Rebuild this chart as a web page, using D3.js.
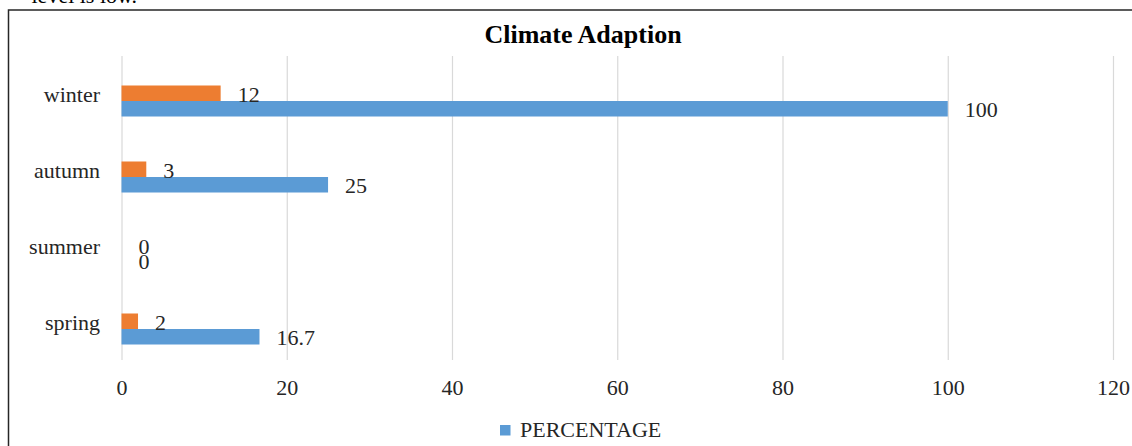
<!DOCTYPE html>
<html>
<head>
<meta charset="utf-8">
<script src="https://cdn.jsdelivr.net/npm/d3@7"></script>
<style>
  html, body { margin: 0; padding: 0; background: #fff; overflow: hidden; }
  svg { display: block; }
  text { font-family: "Liberation Serif", "Times New Roman", serif; }
</style>
</head>
<body>
<svg id="chart" width="1132" height="446"></svg>
<script>
// ---- data ----
const categories = ["winter", "autumn", "summer", "spring"];
const countValues = [12, 3, 0, 2];
const percentValues = [100, 25, 0, 16.7];
const xTicks = [0, 20, 40, 60, 80, 100, 120];
const seriesNames = ["count", "PERCENTAGE"];
const seriesColors = ["#ED7D31", "#5B9BD5"];
const chartTitle = "Climate Adaption";
const aboveText = "level is low.";

const svg = d3.select("#chart");

// text of the page above the chart, clipped by the frame edge
svg.append("text")
  .attr("x", 137).attr("y", 3)
  .attr("text-anchor", "end")
  .style("font-size", "22px").attr("fill", "#000")
  .text(aboveText);

// chart frame
svg.append("rect")
  .attr("x", 8.5).attr("y", 10)
  .attr("width", 1300).attr("height", 600)
  .attr("fill", "none").attr("stroke", "#262626").attr("stroke-width", 1.5);

const plotTop = 56, plotBottom = 360;
const x = d3.scaleLinear().domain([0, 120]).range([121.5, 1113]);
const y = d3.scaleBand().domain(categories).range([63, 367])
  .paddingInner(0.592).paddingOuter(0.296);
const ySub = d3.scaleBand().domain(seriesNames).range([0, y.bandwidth()]);

// x axis with gridlines
const xAxis = svg.append("g")
  .attr("transform", `translate(0,${plotBottom})`)
  .call(d3.axisBottom(x).tickValues(xTicks)
    .tickSizeInner(-(plotBottom - plotTop)).tickSizeOuter(0).tickPadding(19));
xAxis.select(".domain").remove();
xAxis.selectAll(".tick line").attr("stroke", "#d9d9d9").attr("stroke-width", 1.2);
xAxis.selectAll(".tick text")
  .style("font-size", "22px").attr("fill", "#262626")
  .style("font-family", "'Liberation Serif', serif");

// category axis
const yAxis = svg.append("g")
  .attr("transform", `translate(${x(0)},0)`)
  .call(d3.axisLeft(y).tickSize(0).tickPadding(21.5));
yAxis.select(".domain").remove();
yAxis.selectAll(".tick text")
  .attr("dy", "0.04em")
  .style("font-size", "22px").attr("fill", "#262626")
  .style("font-family", "'Liberation Serif', serif");

// bars
const rows = categories.map((c, i) => ({
  cat: c,
  vals: [
    { s: seriesNames[0], v: countValues[i], color: seriesColors[0] },
    { s: seriesNames[1], v: percentValues[i], color: seriesColors[1] }
  ]
}));

const groups = svg.append("g").selectAll("g")
  .data(rows).join("g")
  .attr("transform", d => `translate(0,${y(d.cat)})`);

groups.selectAll("rect")
  .data(d => d.vals).join("rect")
  .attr("x", x(0))
  .attr("y", d => ySub(d.s))
  .attr("width", d => x(d.v) - x(0))
  .attr("height", ySub.bandwidth())
  .attr("fill", d => d.color);

groups.selectAll("text")
  .data(d => d.vals).join("text")
  .attr("x", d => x(d.v) + 17)
  .attr("y", d => ySub(d.s) + ySub.bandwidth() / 2 + 8.5)
  .style("font-size", "22px").attr("fill", "#262626")
  .text(d => d.v);

// title
svg.append("text")
  .attr("x", 583).attr("y", 43)
  .attr("text-anchor", "middle")
  .style("font-size", "26px").style("font-weight", "bold").attr("fill", "#000")
  .text(chartTitle);

// legend (percentage only)
svg.append("rect")
  .attr("x", 500).attr("y", 425).attr("width", 10.5).attr("height", 10.5)
  .attr("fill", seriesColors[1]);
svg.append("text")
  .attr("x", 520).attr("y", 436.5)
  .style("font-size", "22px").attr("fill", "#262626")
  .text(seriesNames[1]);
</script>
</body>
</html>
